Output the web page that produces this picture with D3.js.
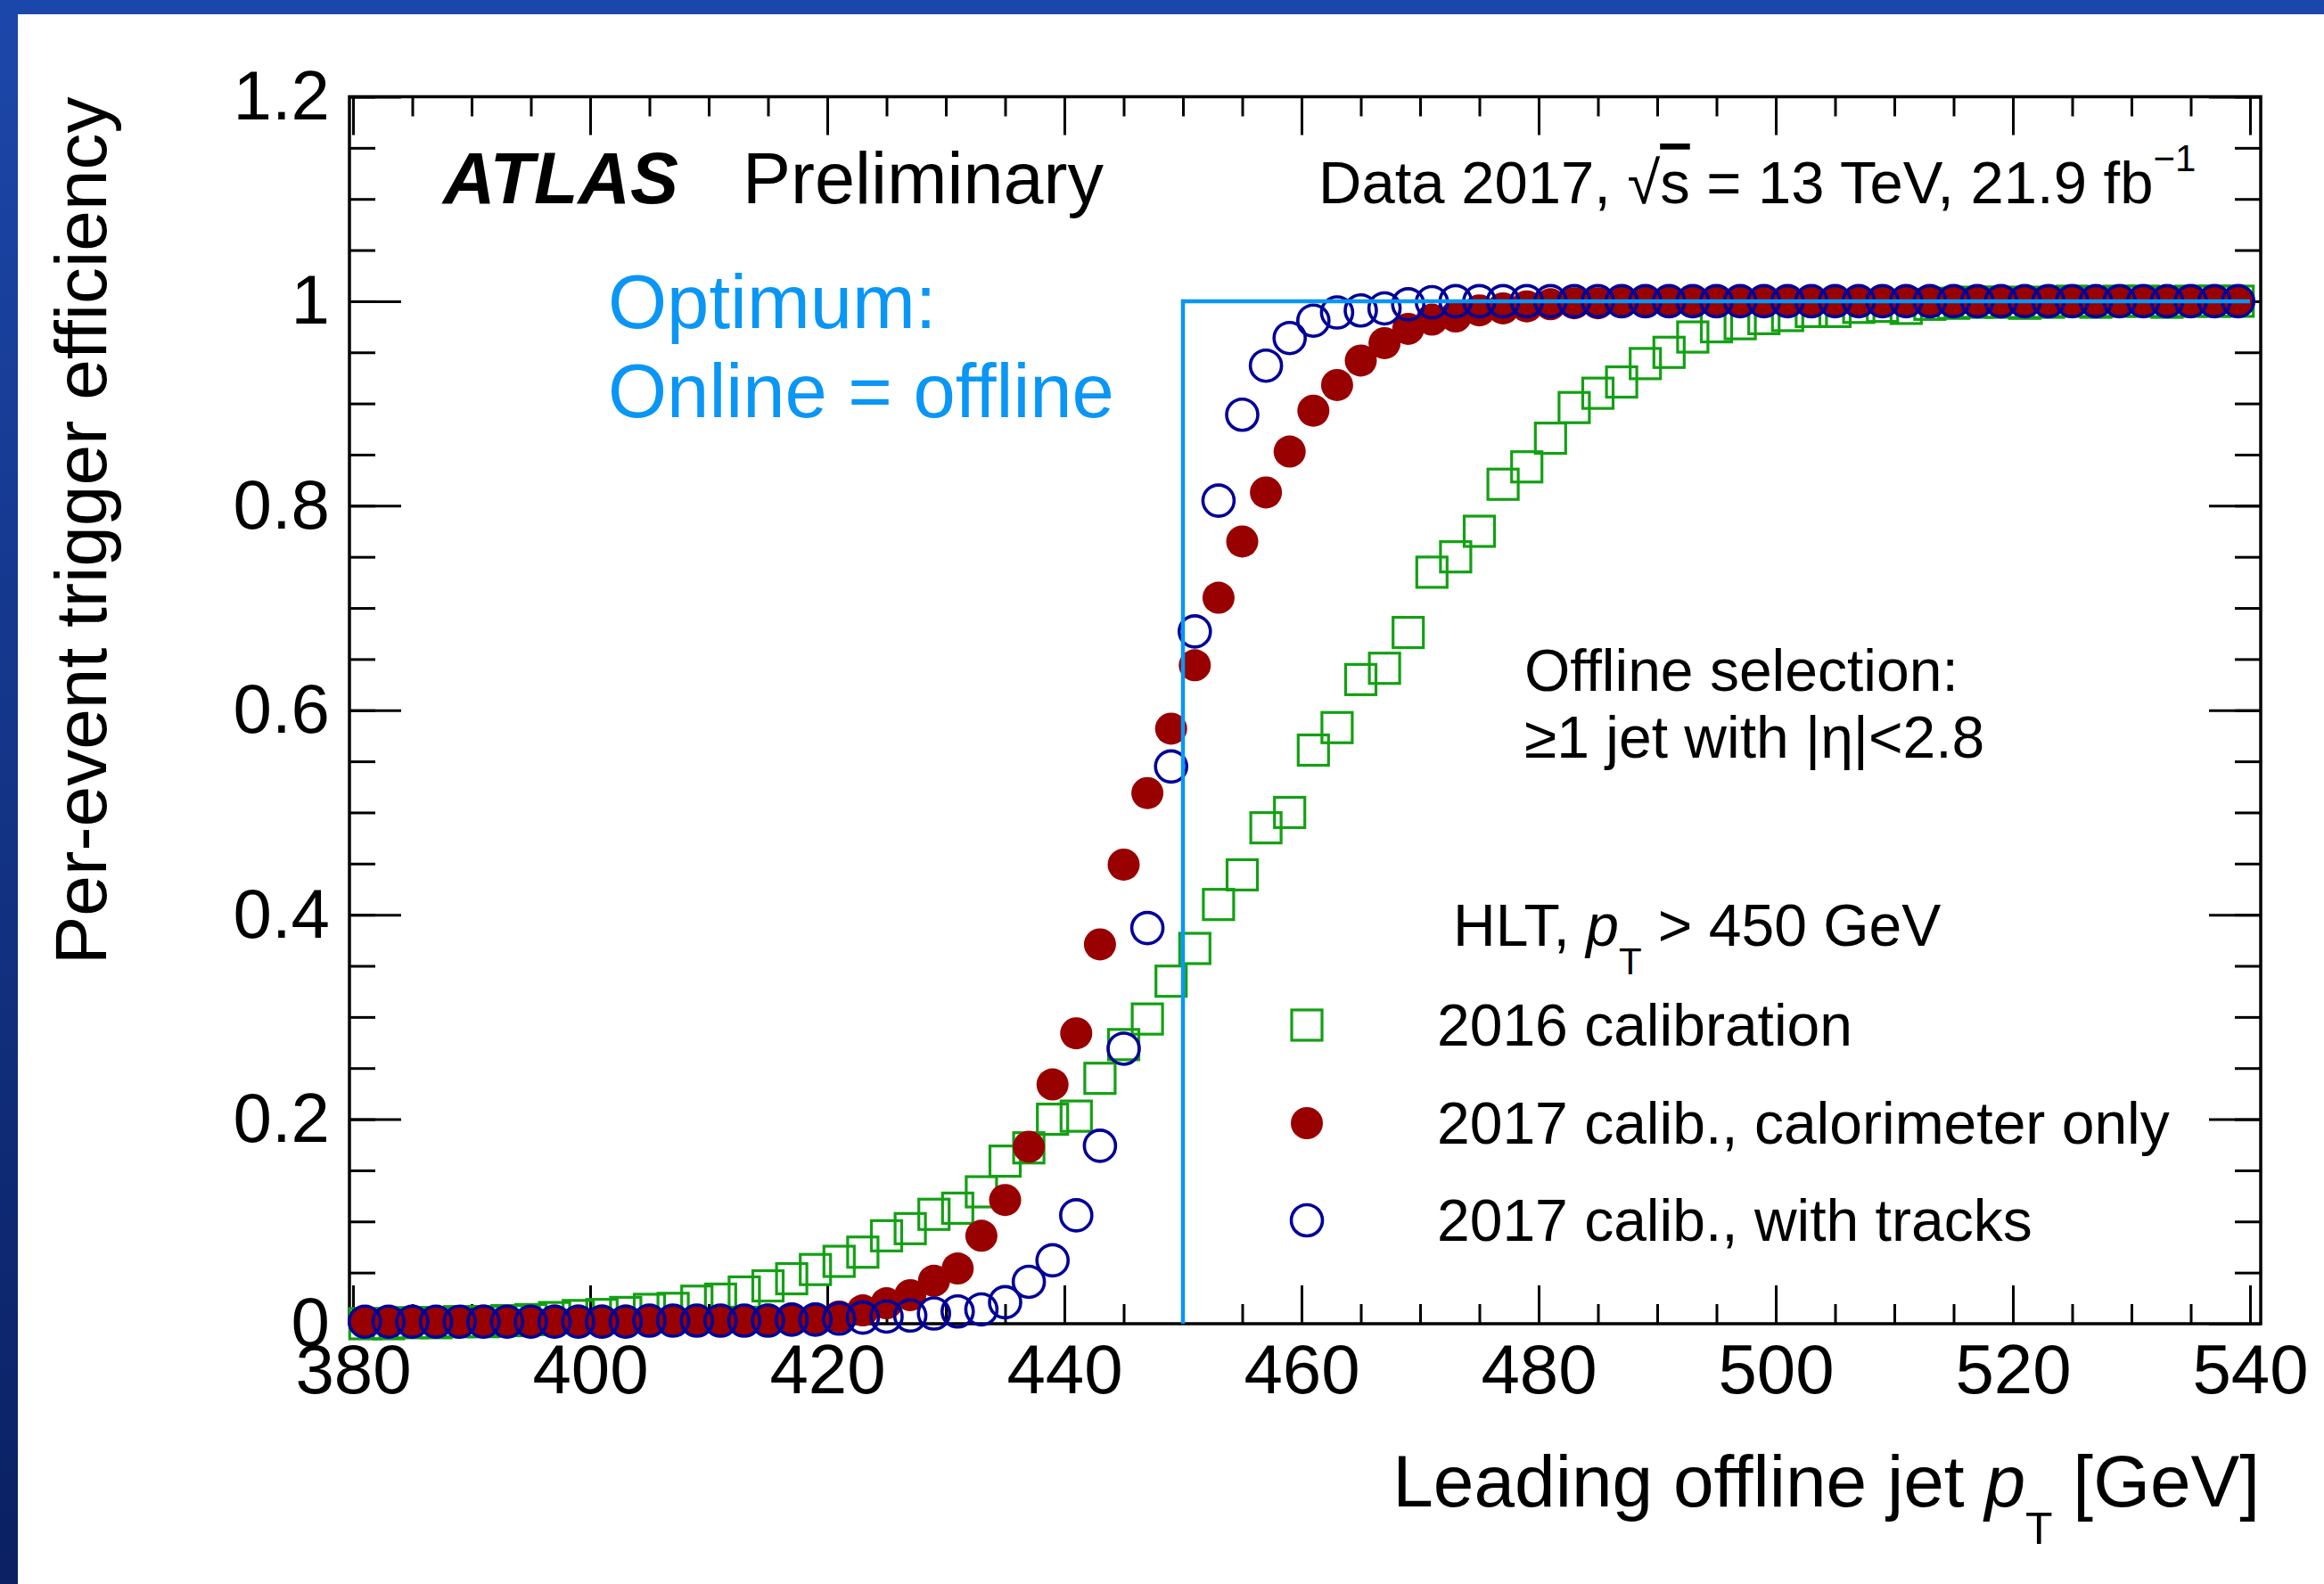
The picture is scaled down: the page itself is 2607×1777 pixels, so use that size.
<!DOCTYPE html>
<html>
<head>
<meta charset="utf-8">
<script src="https://cdn.jsdelivr.net/npm/d3@7"></script>
<style>
  body { margin: 0; background: #fff; }
  svg text { font-family: "Liberation Sans", Arial, Helvetica, sans-serif; }
</style>
</head>
<body>
<svg id="chart" width="2607" height="1777"></svg>
<script>
// bin centres (2 GeV bins) of leading offline jet pT
const pT = [381, 383, 385, 387, 389, 391, 393, 395, 397, 399,
            401, 403, 405, 407, 409, 411, 413, 415, 417, 419,
            421, 423, 425, 427, 429, 431, 433, 435, 437, 439,
            441, 443, 445, 447, 449, 451, 453, 455, 457, 459,
            461, 463, 465, 467, 469, 471, 473, 475, 477, 479,
            481, 483, 485, 487, 489, 491, 493, 495, 497, 499,
            501, 503, 505, 507, 509, 511, 513, 515, 517, 519,
            521, 523, 525, 527, 529, 531, 533, 535, 537, 539];

// 2016 calibration
const eff2016 = [0.000, 0.000, 0.001, 0.001, 0.002, 0.002, 0.003, 0.004, 0.006, 0.008,
                 0.009, 0.011, 0.014, 0.015, 0.022, 0.024, 0.031, 0.037, 0.044, 0.053,
                 0.061, 0.070, 0.086, 0.093, 0.107, 0.113, 0.129, 0.159, 0.172, 0.200,
                 0.203, 0.240, 0.273, 0.298, 0.335, 0.367, 0.410, 0.439, 0.485, 0.500,
                 0.561, 0.583, 0.630, 0.641, 0.676, 0.735, 0.750, 0.775, 0.821, 0.838,
                 0.866, 0.896, 0.910, 0.921, 0.939, 0.950, 0.965, 0.975, 0.978, 0.983,
                 0.986, 0.990, 0.990, 0.994, 0.995, 0.993, 0.997, 0.998, 0.999, 0.999,
                 0.998, 0.999, 1.000, 0.999, 1.000, 1.000, 0.999, 1.000, 1.000, 1.000];

// 2017 calib., calorimeter only
const effCalo = [0.002, 0.002, 0.002, 0.002, 0.002, 0.003, 0.002, 0.002, 0.003, 0.003,
                 0.003, 0.003, 0.003, 0.003, 0.003, 0.003, 0.003, 0.004, 0.004, 0.005,
                 0.007, 0.013, 0.020, 0.028, 0.042, 0.054, 0.086, 0.121, 0.173, 0.234,
                 0.284, 0.371, 0.449, 0.519, 0.582, 0.644, 0.710, 0.765, 0.813, 0.853,
                 0.893, 0.918, 0.942, 0.959, 0.973, 0.982, 0.985, 0.991, 0.993, 0.995,
                 0.997, 0.998, 0.998, 0.999, 0.999, 0.999, 1.000, 0.999, 1.000, 1.000,
                 1.000, 0.999, 1.000, 1.000, 1.000, 1.000, 0.999, 1.000, 1.000, 1.000,
                 1.000, 1.000, 1.000, 1.000, 1.000, 1.000, 1.000, 1.000, 1.000, 1.000];

// 2017 calib., with tracks
const effTracks = [0.002, 0.002, 0.002, 0.002, 0.002, 0.002, 0.002, 0.002, 0.002, 0.002,
                   0.002, 0.002, 0.003, 0.003, 0.003, 0.003, 0.003, 0.003, 0.004, 0.004,
                   0.005, 0.006, 0.007, 0.008, 0.010, 0.012, 0.014, 0.021, 0.041, 0.062,
                   0.106, 0.174, 0.269, 0.387, 0.545, 0.677, 0.805, 0.889, 0.937, 0.964,
                   0.981, 0.989, 0.991, 0.993, 0.997, 0.999, 1.000, 1.000, 1.000, 1.000,
                   1.000, 1.000, 1.000, 1.000, 1.000, 1.000, 1.000, 1.000, 1.000, 1.000,
                   1.000, 1.000, 1.000, 1.000, 1.000, 1.000, 1.000, 1.000, 1.000, 1.000,
                   1.000, 1.000, 1.000, 1.000, 1.000, 1.000, 1.000, 1.000, 1.000, 1.000];

// ideal turn-on: online = offline
const optimumPt = [450, 450, 540];
const optimumEff = [0, 1, 1];

const xTickValues = [380, 400, 420, 440, 460, 480, 500, 520, 540];
const yTickValues = [0, 0.2, 0.4, 0.6, 0.8, 1, 1.2];
const yTickLabels = ["0", "0.2", "0.4", "0.6", "0.8", "1", "1.2"];
const legendLabels = ["2016 calibration", "2017 calib., calorimeter only", "2017 calib., with tracks"];

const green = "#13a013", darkRed = "#990000", navy = "#000099", azure = "#0a96f5";

const svg = d3.select("#chart");
const frame = {left: 392, right: 2536, top: 108.5, bottom: 1485};

const x = d3.scaleLinear().domain([380, 540]).range([396, 2524]);
const y = d3.scaleLinear().domain([0, 1.2]).range([frame.bottom, frame.top]);

// background and blue slide border
const grad = svg.append("defs").append("linearGradient")
    .attr("id", "edge").attr("x1", 0).attr("y1", 0).attr("x2", 0).attr("y2", 1);
grad.append("stop").attr("offset", "0%").attr("stop-color", "#1c47aa");
grad.append("stop").attr("offset", "100%").attr("stop-color", "#0a2062");

svg.append("rect").attr("width", 2607).attr("height", 1777).attr("fill", "#fff");
svg.append("rect").attr("width", 20).attr("height", 1777).attr("fill", "url(#edge)");
svg.append("rect").attr("width", 2607).attr("height", 16).attr("fill", "#1c47aa");

function styleAxis(g, size) {
    g.select(".domain").remove();
    g.attr("font-family", null).attr("font-size", null);
    g.selectAll(".tick line").attr("stroke", "#000").attr("stroke-width", 3);
    g.selectAll(".tick text").attr("fill", "#000").attr("font-size", size);
}

const xMinor = d3.range(380, 541, 5);
const yMinor = d3.range(0, 1.2001, 0.05);

// left axis
svg.append("g").attr("transform", `translate(${frame.left},0)`)
    .call(d3.axisLeft(y).tickValues(yMinor).tickSize(-29).tickFormat(""))
    .call(styleAxis, 78);
svg.append("g").attr("transform", `translate(${frame.left},0)`)
    .call(d3.axisLeft(y).tickValues(yTickValues).tickSize(-58).tickPadding(22)
        .tickFormat((d, i) => yTickLabels[i]))
    .call(styleAxis, 78);
// right axis (mirror)
svg.append("g").attr("transform", `translate(${frame.right},0)`)
    .call(d3.axisRight(y).tickValues(yMinor).tickSize(-29).tickFormat(""))
    .call(styleAxis, 78);
svg.append("g").attr("transform", `translate(${frame.right},0)`)
    .call(d3.axisRight(y).tickValues(yTickValues).tickSize(-58).tickFormat(""))
    .call(styleAxis, 78);
// bottom axis
svg.append("g").attr("transform", `translate(0,${frame.bottom})`)
    .call(d3.axisBottom(x).tickValues(xMinor).tickSize(-22).tickFormat(""))
    .call(styleAxis, 78);
svg.append("g").attr("transform", `translate(0,${frame.bottom})`)
    .call(d3.axisBottom(x).tickValues(xTickValues).tickSize(-43).tickPadding(23)
        .tickFormat(d3.format("d")))
    .call(styleAxis, 78);
// top axis (mirror)
svg.append("g").attr("transform", `translate(0,${frame.top})`)
    .call(d3.axisTop(x).tickValues(xMinor).tickSize(-22).tickFormat(""))
    .call(styleAxis, 78);
svg.append("g").attr("transform", `translate(0,${frame.top})`)
    .call(d3.axisTop(x).tickValues(xTickValues).tickSize(-43).tickFormat(""))
    .call(styleAxis, 78);

svg.append("rect")
    .attr("x", frame.left).attr("y", frame.top)
    .attr("width", frame.right - frame.left).attr("height", frame.bottom - frame.top)
    .attr("fill", "none").attr("stroke", "#000").attr("stroke-width", 3.5);

// data markers
const sq = 34, rDot = 18, rOpen = 17.5;
svg.append("g").selectAll("rect")
    .data(pT.map((p, i) => [p, eff2016[i]]))
    .join("rect")
    .attr("x", d => x(d[0]) - sq / 2).attr("y", d => y(d[1]) - sq / 2)
    .attr("width", sq).attr("height", sq)
    .attr("fill", "none").attr("stroke", green).attr("stroke-width", 3.2);

svg.append("g").selectAll("circle")
    .data(pT.map((p, i) => [p, effCalo[i]]))
    .join("circle")
    .attr("cx", d => x(d[0])).attr("cy", d => y(d[1])).attr("r", rDot)
    .attr("fill", darkRed);

svg.append("g").selectAll("circle")
    .data(pT.map((p, i) => [p, effTracks[i]]))
    .join("circle")
    .attr("cx", d => x(d[0])).attr("cy", d => y(d[1])).attr("r", rOpen)
    .attr("fill", "none").attr("stroke", navy).attr("stroke-width", 3.6);

// optimum step
svg.append("path")
    .datum(optimumPt.map((p, i) => [p, optimumEff[i]]))
    .attr("d", d3.line().x(d => x(d[0])).y(d => y(d[1])))
    .attr("fill", "none").attr("stroke", azure).attr("stroke-width", 4.5);

// axis titles
svg.append("text")
    .attr("transform", `translate(119,${frame.top}) rotate(-90)`)
    .attr("text-anchor", "end").attr("font-size", 82)
    .text("Per-event trigger efficiency");

const xt = svg.append("text")
    .attr("x", 2535).attr("y", 1690).attr("text-anchor", "end").attr("font-size", 82);
xt.append("tspan").text("Leading offline jet ");
xt.append("tspan").attr("font-style", "italic").text("p");
xt.append("tspan").attr("font-size", 50).attr("dy", 42).text("T");
xt.append("tspan").attr("dy", -42).text(" [GeV]");

// labels
const atlas = svg.append("text").attr("x", 497).attr("y", 228).attr("font-size", 81);
atlas.append("tspan").attr("font-weight", "bold").attr("font-style", "italic").text("ATLAS");
svg.append("text").attr("x", 833).attr("y", 228).attr("font-size", 81).text("Preliminary");

const lumi = svg.append("text").attr("x", 1479).attr("y", 228).attr("font-size", 67);
lumi.append("tspan").text("Data 2017, √");
lumi.append("tspan").style("text-decoration", "overline").text("s");
lumi.append("tspan").text(" = 13 TeV, 21.9 fb");
lumi.append("tspan").attr("font-size", 42).attr("dy", -36).text("−1");

svg.append("text").attr("x", 682).attr("y", 368).attr("font-size", 85)
    .attr("fill", azure).text("Optimum:");
svg.append("text").attr("x", 682).attr("y", 468).attr("font-size", 85)
    .attr("fill", azure).text("Online = offline");

svg.append("text").attr("x", 1710).attr("y", 775).attr("font-size", 66)
    .text("Offline selection:");
svg.append("text").attr("x", 1710).attr("y", 850).attr("font-size", 66)
    .text("≥1 jet with |η|<2.8");

// legend
const hlt = svg.append("text").attr("x", 1630).attr("y", 1061).attr("font-size", 66);
hlt.append("tspan").text("HLT, ");
hlt.append("tspan").attr("font-style", "italic").text("p");
hlt.append("tspan").attr("font-size", 42).attr("dy", 32).text("T");
hlt.append("tspan").attr("dy", -32).text(" > 450 GeV");

const rows = [1150, 1260, 1369];
const lg = svg.append("g");
lg.append("rect").attr("x", 1466 - sq / 2).attr("y", rows[0] - sq / 2)
    .attr("width", sq).attr("height", sq)
    .attr("fill", "none").attr("stroke", green).attr("stroke-width", 3.2);
lg.append("circle").attr("cx", 1466).attr("cy", rows[1]).attr("r", rDot).attr("fill", darkRed);
lg.append("circle").attr("cx", 1466).attr("cy", rows[2]).attr("r", rOpen)
    .attr("fill", "none").attr("stroke", navy).attr("stroke-width", 3.6);
lg.selectAll("text").data(legendLabels).join("text")
    .attr("x", 1612).attr("y", (d, i) => rows[i] + 23)
    .attr("font-size", 66).text(d => d);
</script>
</body>
</html>
